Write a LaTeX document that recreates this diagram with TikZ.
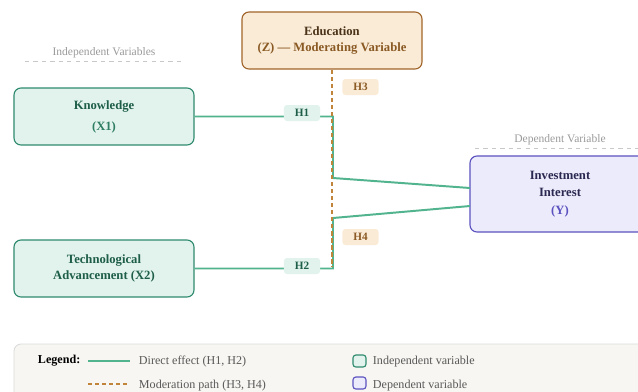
\documentclass[tikz,border=0pt]{standalone}
\usepackage{fontspec}
\setmainfont{Liberation Serif}
\usetikzlibrary{positioning}

\definecolor{mint}{HTML}{E1F3EC}
\definecolor{teal}{HTML}{2E8A6E}
\definecolor{darkgreen}{HTML}{1E5E48}
\definecolor{midgreen}{HTML}{2E7D64}
\definecolor{linegreen}{HTML}{52B38F}
\definecolor{sand}{HTML}{FAEBD7}
\definecolor{brown}{HTML}{A0652A}
\definecolor{darkbrown}{HTML}{4A3318}
\definecolor{midbrown}{HTML}{8A5A24}
\definecolor{dashbrown}{HTML}{C0843A}
\definecolor{lavender}{HTML}{ECEBFB}
\definecolor{violet}{HTML}{5B52C0}
\definecolor{navy}{HTML}{2A2850}
\definecolor{greytext}{HTML}{9A9A9A}
\definecolor{greyline}{HTML}{C8C8C8}
\definecolor{paper}{HTML}{F7F6F2}
\definecolor{paperline}{HTML}{DADADA}

\begin{document}
\begin{tikzpicture}[x=0.025cm,y=-0.025cm,
  var node/.style={rectangle,rounded corners=5pt,line width=0.8pt,minimum width=4.5cm,
    minimum height=1.425cm,align=center,font=\fontsize{9}{12}\selectfont\bfseries},
  ind node/.style={var node,fill=mint,draw=teal,text=darkgreen},
  mod node/.style={var node,fill=sand,draw=brown,text=darkbrown},
  dep node/.style={var node,fill=lavender,draw=violet,text=navy,minimum height=1.9cm},
  hyp green/.style={rectangle,rounded corners=2pt,fill=mint,text=darkgreen,minimum width=0.9cm,
    minimum height=0.4cm,inner sep=0pt,font=\fontsize{8}{9}\selectfont\bfseries},
  hyp brown/.style={hyp green,fill=sand,text=midbrown},
  group label/.style={text=greytext,font=\fontsize{8.2}{10}\selectfont},
  direct/.style={draw=linegreen,line width=1.4pt},
  moder/.style={draw=dashbrown,line width=0.9pt,dash pattern=on 3pt off 2pt},
  legend text/.style={anchor=west,text=black!65,font=\fontsize{8.6}{10}\selectfont}]
  \useasboundingbox (0,0) rectangle (638,391);

  % group headings
  \node[group label] (indlbl) at (104,53) {Independent Variables};
  \draw[greyline,dashed,line width=0.6pt] (25,61) -- (183,61);
  \node[group label] (deplbl) at (560,140) {Dependent Variable};
  \draw[greyline,dashed,line width=0.6pt] (475,148) -- (645,148);

  % variables
  \node[ind node] (know) at (104,116.5) {Knowledge\\[3pt]\textcolor{midgreen}{(X1)}};
  \node[ind node] (tech) at (104,268.5) {Technological\\Advancement (X2)};
  \node[mod node] (edu) at (332,40.5) {Education\\\textcolor{midbrown}{(Z) --- Moderating Variable}};
  \node[dep node] (inv) at (560,194) {Investment\\Interest\\[1pt]\textcolor{violet}{(Y)}};

  \coordinate (j1) at (333,178);
  \coordinate (j2) at (333,218);
  \coordinate (in1) at (470,188);
  \coordinate (in2) at (470,206);
  \coordinate (mend) at (332,267);

  % paths
  \draw[direct] (know.east) -| (j1) -- (in1);
  \draw[direct] (tech.east) -| (j2) -- (in2);
  \draw[moder] (edu.south) -- (mend);

  \node[hyp green] (h1) at (302,113) {H1};
  \node[hyp green] (h2) at (302,266) {H2};
  \node[hyp brown] (h3) at (360.5,87) {H3};
  \node[hyp brown] (h4) at (360.5,237) {H4};

  % legend
  \draw[fill=paper,draw=paperline,rounded corners=5pt,line width=0.6pt] (14,344) rectangle (660,410);
  \node[anchor=west,font=\fontsize{8.6}{10}\selectfont\bfseries] (leg) at (33,361) {Legend:};
  \coordinate (la1) at (88,361);
  \coordinate (lb1) at (130,361);
  \coordinate (la2) at (88,384);
  \coordinate (lb2) at (130,384);
  \draw[direct,line width=1.1pt] (la1) -- (lb1);
  \draw[moder] (la2) -- (lb2);
  \node[legend text] (l1) at (134,362) {Direct effect (H1, H2)};
  \node[legend text] (l2) at (134,386) {Moderation path (H3, H4)};
  \draw[fill=mint,draw=teal,rounded corners=2pt,line width=0.8pt] (353,355) rectangle (366,367);
  \draw[fill=lavender,draw=violet,rounded corners=2pt,line width=0.8pt] (353,377) rectangle (366,389);
  \node[legend text] (l3) at (368,362) {Independent variable};
  \node[legend text] (l4) at (368,386) {Dependent variable};
\end{tikzpicture}
\end{document}
